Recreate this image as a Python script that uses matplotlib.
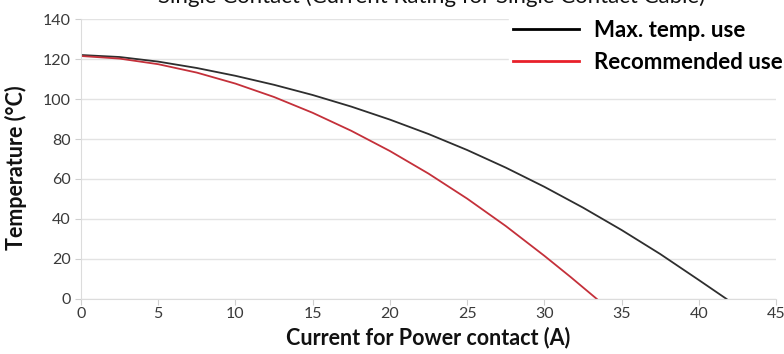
import matplotlib
matplotlib.use("Agg")
import matplotlib.pyplot as plt

# Data
x_max = [0, 2.5, 5, 7.5, 10, 12.5, 15, 17.5, 20, 22.5, 25, 27.5, 30, 32.5, 35, 37.5, 40, 41.8]
t_max = [122, 121, 118.7, 115.5, 111.6, 107.1, 102, 96.2, 89.7, 82.5, 74.5, 65.7, 56.1, 45.7, 34.5, 22.5, 9.5, 0]
x_rec = [0, 2.5, 5, 7.5, 10, 12.5, 15, 17.5, 20, 22.5, 25, 27.5, 30, 31.7, 33.4]
t_rec = [121.5, 120.2, 117.4, 113.2, 107.7, 101, 93.1, 84.1, 74, 62.7, 50.2, 36.5, 21.6, 11, 0]
series_labels = ["Max. temp. use", "Recommended use"]
x_ticks = [0, 5, 10, 15, 20, 25, 30, 35, 40, 45]
y_ticks = [0, 20, 40, 60, 80, 100, 120, 140]
title_text = "Single Contact (Current Rating for Single Contact Cable)"
x_label = "Current for Power contact (A)"
y_label = "Temperature (°C)"

fig = plt.figure(figsize=(7.84, 3.54), dpi=100)
ax = fig.add_axes([0.1033, 0.1554, 0.8865, 0.7909])

ax.plot(x_max, t_max, color="#2e2e2e", lw=1.3, label=series_labels[0])
ax.plot(x_rec, t_rec, color="#c4303a", lw=1.3, label=series_labels[1])

ax.set_xlim(0, 45)
ax.set_ylim(0, 140)
ax.set_xticks(x_ticks)
ax.set_yticks(y_ticks)
ax.yaxis.grid(True, color="#e3e3e3", lw=1)
ax.set_axisbelow(True)
for s in ["top", "right"]:
    ax.spines[s].set_visible(False)
for s in ["left", "bottom"]:
    ax.spines[s].set_color("#dcdcdc")
ax.tick_params(axis="both", colors="#cfcfcf", length=4, labelcolor="#3a3a3a",
               labelsize=11.5)
ax.tick_params(axis="x", pad=2)
for lab in ax.get_xticklabels() + ax.get_yticklabels():
    lab.set_family("Lato")

ax.set_xlabel(x_label, fontsize=15.5, fontweight="bold", family="Lato",
              color="#111111", labelpad=4)
ax.set_ylabel(y_label, fontsize=15.5, fontweight="bold", family="Lato",
              color="#111111")
ax.yaxis.set_label_coords(-0.078, 0.47)

leg_black = plt.Line2D([], [], color="black", lw=2)
leg_red = plt.Line2D([], [], color="#e8202a", lw=2)
leg = fig.legend([leg_black, leg_red], series_labels, loc="upper left",
                 bbox_to_anchor=(0.649, 0.957), frameon=True, framealpha=1,
                 edgecolor="white", facecolor="white", handlelength=2.95,
                 handletextpad=0.68, labelspacing=0.5, borderpad=0.2,
                 borderaxespad=0, fancybox=False,
                 prop={"family": "Lato", "weight": "bold", "size": 16})

fig.text(0.55, 1 - 3 / 354, title_text, ha="center", va="baseline",
         fontsize=16, family="Lato", color="#111111")

fig.savefig("out.png", dpi=100)
